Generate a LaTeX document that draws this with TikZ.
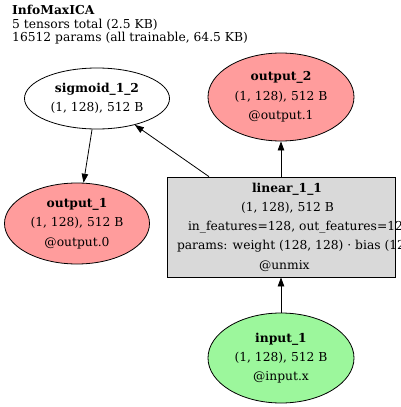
\documentclass[tikz,border=0pt]{standalone}
\usepackage{fontspec}
\setmainfont{DejaVu Serif}
\usetikzlibrary{arrows.meta,shapes.geometric}

\definecolor{outred}{HTML}{FF9C9C}
\definecolor{ingreen}{HTML}{9CF79C}
\definecolor{opgray}{HTML}{D9D9D9}

% one text line of the op box, starting dx from the box centre
\newcommand{\opline}[2]{\makebox[0pt][l]{\hspace*{#1}#2}}

\begin{document}
\begin{tikzpicture}[x=1pt, y=-1pt, >={Triangle[length=9pt,width=6.5pt]},
  every node/.style={font=\fontsize{12.3}{19.3}\selectfont},
  tensor/.style={draw, ellipse, inner sep=0pt, line width=0.8pt, align=center},
  outtensor/.style={tensor, fill=outred},
  intensor/.style={tensor, fill=ingreen},
  opbox/.style={draw, rectangle, fill=opgray, line width=0.8pt, inner sep=0pt, align=center, minimum width=228pt, minimum height=100pt},
  edge/.style={->, line width=0.8pt}]
  \useasboundingbox (0,0) rectangle (400,407);

  % Header
  \node[anchor=north west, inner sep=0pt, align=left, font=\fontsize{12.3}{13.5}\selectfont] (head) at (12,5)
    {\textbf{InfoMaxICA}\\5 tensors total (2.5 KB)\\16512 params (all trainable, 64.5 KB)};

  % Tensors
  \node[tensor, minimum width=145pt, minimum height=61pt] (sig) at (97,98.5) {\textbf{sigmoid\_1\_2}\\(1, 128), 512 B};
  \node[outtensor, minimum width=146pt, minimum height=88pt] (out2) at (281,97) {\textbf{output\_2}\\(1, 128), 512 B\\@output.1};
  \node[outtensor, minimum width=145pt, minimum height=81pt] (out1) at (77,223.5) {\textbf{output\_1}\\(1, 128), 512 B\\@output.0};
  \node[intensor, minimum width=146pt, minimum height=90pt] (in1) at (281,358) {\textbf{input\_1}\\(1, 128), 512 B\\@input.x};

  % Op
  \node[opbox] (lin) at (281,227) {\opline{-29pt}{\textbf{linear\_1\_1}}\\
    \opline{-40pt}{(1, 128), 512 B}\\
    \opline{-93pt}{in\_features=128, out\_features=128}\\
    \opline{-104pt}{params: weight (128, 128) · bias (128,)}\\
    \opline{-22pt}{@unmix}};

  \draw[edge] (in1) -- (lin);
  \draw[edge] (lin) -- (out2);
  \draw[edge] (lin) -- (sig);
  \draw[edge] (sig) -- (out1);
\end{tikzpicture}
\end{document}
